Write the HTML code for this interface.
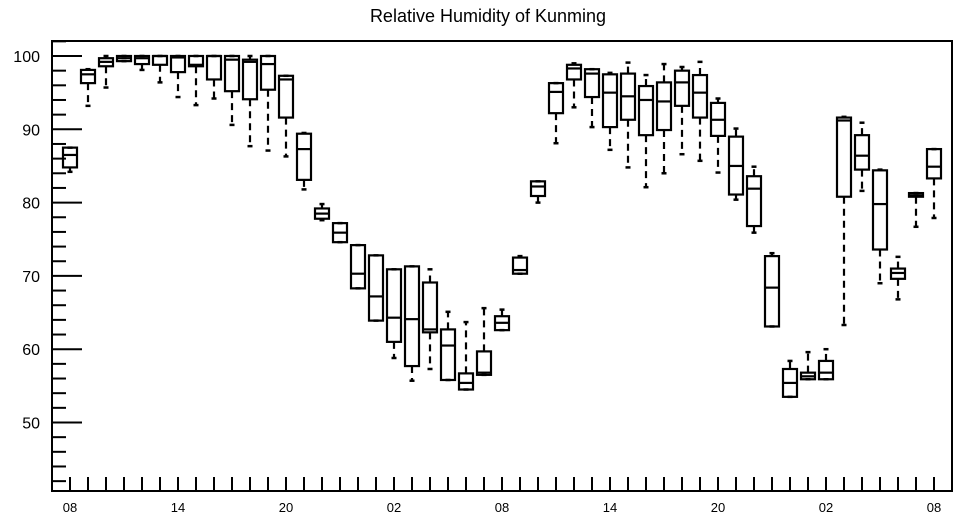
<!DOCTYPE html>
<html><head><meta charset="utf-8"><style>
html,body{margin:0;padding:0;background:#fff;}
svg{display:block;font-family:"Liberation Sans",Arial,sans-serif;}
</style></head><body>
<svg id="chart" width="957" height="520" viewBox="0 0 957 520" xmlns="http://www.w3.org/2000/svg">
<text x="488" y="22" text-anchor="middle" font-size="18" fill="#000">Relative Humidity of Kunming</text>
<g id="plot"></g>
</svg>
<script>
const hours = ["08","09","10","11","12","13","14","15","16","17","18","19","20","21","22","23","00","01","02","03","04","05","06","07","08","09","10","11","12","13","14","15","16","17","18","19","20","21","22","23","00","01","02","03","04","05","06","07","08"];
const whiskerLow = [84.2,93.2,95.7,99.3,98.1,96.4,94.4,93.3,94.2,90.6,87.7,87.1,86.3,81.8,77.6,74.6,68.3,63.9,58.8,55.7,57.3,55.8,54.5,56.5,62.6,70.3,80.0,88.1,93.0,90.3,87.2,84.8,82.1,84.0,86.6,85.7,84.1,80.4,75.9,63.1,53.5,55.9,55.9,63.3,81.6,69.0,66.8,76.7,77.9];
const q1 = [84.8,96.3,98.6,99.3,98.9,98.8,97.8,98.6,96.8,95.2,94.1,95.4,91.6,83.1,77.8,74.6,68.3,63.9,61.0,57.7,62.3,55.8,54.5,56.5,62.6,70.3,80.9,92.2,96.8,94.4,90.3,91.3,89.2,89.9,93.2,91.6,89.1,81.1,76.8,63.1,53.5,55.9,55.9,80.8,84.5,73.6,69.6,80.8,83.3];
const medians = [86.5,97.5,99.2,99.7,99.7,100,99.8,98.8,100,99.5,99.2,98.9,96.8,87.3,78.5,75.9,70.3,67.2,64.3,64.1,62.7,60.5,55.4,56.8,63.6,70.8,82.2,95.1,98.3,97.6,95.0,94.5,94.0,93.8,96.4,95.0,91.3,85.0,81.9,68.4,55.4,56.3,56.8,91.2,86.4,79.8,70.4,81.0,84.9];
const q3 = [87.5,98.1,99.7,100,100,100,100,100,100,100,99.5,100,97.3,89.4,79.2,77.2,74.2,72.8,70.9,71.3,69.1,62.7,56.7,59.7,64.5,72.5,82.9,96.3,98.8,98.2,97.5,97.6,95.9,96.4,98.0,97.4,93.6,89.0,83.6,72.7,57.3,56.8,58.4,91.6,89.2,84.4,71.0,81.3,87.3];
const whiskerHigh = [87.5,98.2,100,100,100,100,100,100,100,100,100,100,97.3,89.5,79.8,77.2,74.2,72.8,70.9,71.3,70.9,65.1,63.7,65.6,65.4,72.7,82.9,96.3,99.0,98.2,97.7,99.1,97.4,98.9,98.5,99.2,94.2,90.1,84.9,73.1,58.4,59.6,60.0,91.7,90.9,84.5,72.6,81.3,87.3];
const yTicks = [50,60,70,80,90,100];
const xLabelIdx = [0,6,12,18,24,30,36,42,48];

const L=52,R=952,T=41,B=491;
function yPos(v){return 56+(100-v)*7.33;}
function xPos(i){return 70+18*i;}
const NS="http://www.w3.org/2000/svg";
const g=document.getElementById('plot');
function mk(tag,attrs){const e=document.createElementNS(NS,tag);for(const k in attrs)e.setAttribute(k,attrs[k]);g.appendChild(e);return e;}

// frame
const fr=mk('rect',{x:L,y:T,width:R-L,height:B-T,fill:'none',stroke:'#000','stroke-width':2});



// y ticks (minor every 2)
for(let v=42;v<=102;v+=2){
  const y=yPos(v); if(y<T||y>B) continue;
  const major=v%10===0;
  const t=mk('line',{x1:L,x2:L+(major?30:14),y1:y,y2:y,stroke:'#000','stroke-width':2});
  
  
}
yTicks.forEach(v=>{
  const t=mk('text',{x:40,y:yPos(v)+6,'text-anchor':'end','font-size':16,fill:'#000'});
  t.textContent=v;
  
  
});
// x ticks
hours.forEach((h,i)=>{
  const t=mk('line',{x1:xPos(i),x2:xPos(i),y1:B,y2:B-14,stroke:'#000','stroke-width':2});
  
  
});
xLabelIdx.forEach(i=>{
  const t=mk('text',{x:xPos(i),y:512,'text-anchor':'middle','font-size':13,fill:'#000'});
  t.textContent=hours[i];
  
  
});
// boxes
hours.forEach((h,i)=>{
  const x=xPos(i),w=14;
  const ylo=yPos(whiskerLow[i]),y1=yPos(q1[i]),ym=yPos(medians[i]),y3=yPos(q3[i]),yhi=yPos(whiskerHigh[i]);
  if(ylo-y1>1){
    const l=mk('line',{x1:x,x2:x,y1:y1,y2:ylo,stroke:'#000','stroke-width':2.2,'stroke-dasharray':'7,5'});
    
    
  }
  if(y3-yhi>1){
    const l=mk('line',{x1:x,x2:x,y1:y3,y2:yhi,stroke:'#000','stroke-width':2.2,'stroke-dasharray':'7,5'});
    
    
  }
  const c1=mk('line',{x1:x-2.5,x2:x+2.5,y1:ylo,y2:ylo,stroke:'#000','stroke-width':2.5});
  
  
  const c2=mk('line',{x1:x-2.5,x2:x+2.5,y1:yhi,y2:yhi,stroke:'#000','stroke-width':2.5});
  
  
  const b=mk('rect',{x:x-w/2,y:y3,width:w,height:Math.max(y1-y3,1),fill:'none',stroke:'#000','stroke-width':2.2});
  
  
  const m=mk('line',{x1:x-w/2,x2:x+w/2,y1:ym,y2:ym,stroke:'#000','stroke-width':2.2});
  
  
});
</script>
</body></html>
